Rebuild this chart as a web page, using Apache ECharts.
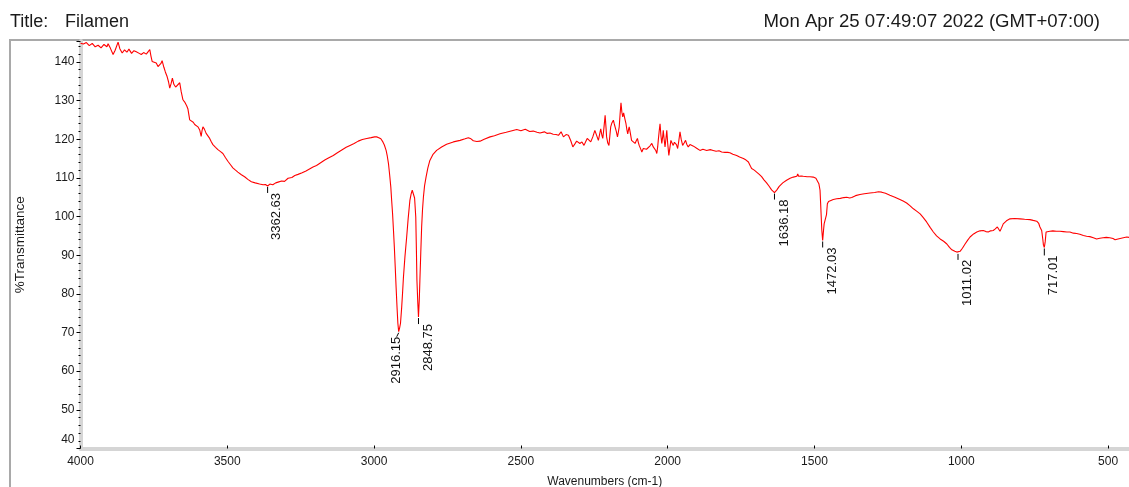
<!DOCTYPE html>
<html>
<head>
<meta charset="utf-8">
<title>Filamen – FTIR</title>
<script src="https://cdn.jsdelivr.net/npm/echarts@6/dist/echarts.min.js"></script>
<style>
  html, body { margin: 0; padding: 0; background: #fff; }
  #chart { width: 1129px; height: 487px; }
</style>
</head>
<body>
<div id="chart"></div>
<script>
// FTIR spectrum of the "Filamen" sample: [wavenumber (cm-1), %Transmittance]

// 4000–2995 cm-1: O–H stretch side
const hydroxylRegion = [
  [4000,144.8],[3990,144.6],[3980,145.0],[3970,144.2],[3960,144.8],[3950,143.9],[3940,144.3],
  [3930,143.6],[3920,144.5],[3910,143.9],[3906,144.7],[3898,143.5],[3889,141.9],[3882,143.0],
  [3876,142.6],[3872,145.1],[3866,143.4],[3858,142.3],[3850,143.1],[3842,142.5],[3835,143.3],
  [3826,142.2],[3818,142.9],[3810,142.6],[3800,142.2],[3793,141.9],[3785,142.4],[3776,142.0],
  [3770,142.6],[3764,143.2],[3760,141.5],[3756,140.1],[3750,140.6],[3742,139.7],[3736,138.8],
  [3730,138.4],[3726,139.6],[3722,140.3],[3716,138.6],[3711,137.4],[3705,136.2],[3700,134.8],
  [3696,133.2],[3691,134.5],[3687,135.8],[3682,134.2],[3676,133.5],[3670,134.0],[3662,134.6],
  [3657,132.3],[3651,130.2],[3645,129.6],[3638,128.6],[3634,127.8],[3628,125.0],[3622,124.6],
  [3616,124.4],[3611,123.8],[3605,123.6],[3600,123.2],[3594,122.4],[3589,120.7],[3586,122.2],
  [3583,123.2],[3578,122.6],[3572,121.5],[3566,121.0],[3560,120.2],[3555,119.4],[3549,118.6],
  [3540,117.9],[3532,117.3],[3523,116.8],[3515,116.3],[3506,115.2],[3498,114.3],[3489,113.4],
  [3481,112.6],[3472,112.0],[3464,111.5],[3452,110.8],[3441,110.3],[3430,109.6],[3418,109.0],
  [3405,108.7],[3390,108.4],[3378,108.2],[3370,108.3],[3362.63,107.9],[3355,108.4],[3345,108.2],
  [3335,108.7],[3327,108.9],[3315,109.2],[3305,109.1],[3293,109.9],[3280,110.1],[3270,110.6],
  [3259,110.9],[3245,111.3],[3232,111.8],[3220,112.3],[3208,112.8],[3196,113.2],[3182,113.9],
  [3168,114.6],[3154,115.2],[3139,115.8],[3125,116.5],[3110,117.2],[3095,117.9],[3082,118.4],
  [3068,118.9],[3054,119.5],[3040,119.9],[3025,120.2],[3010,120.4],[2998,120.6]
];

// 2991–2605 cm-1: C–H stretch doublet
const chStretchRegion = [
  [2991,120.6],[2984,120.4],[2977,120.1],[2970,119.3],[2965,118.5],[2959,117.1],[2955,115.6],
  [2951,113.7],[2947,110.8],[2943,107.6],[2940,104.0],[2937,100.7],[2934,96.5],[2931,92.1],
  [2928,87.0],[2925,81.7],[2922,76.8],[2919,72.4],[2916.15,70.2],[2913,71.2],[2910,72.4],
  [2906,76.5],[2903,80.2],[2900,84.3],[2895,89.5],[2889,94.7],[2884,99.4],[2878,104.2],
  [2874,105.8],[2870,106.8],[2866,106.6],[2862,104.8],[2858,99.8],[2856,92.0],[2854,83.4],
  [2851,77.5],[2848.75,74.0],[2846,78.5],[2844,83.4],[2841,90.5],[2838,97.3],[2835,101.8],
  [2832,105.0],[2828,108.0],[2823,110.2],[2817,112.5],[2810,114.5],[2800,116.0],[2787,117.1],
  [2770,118.0],[2753,118.7],[2730,119.3],[2707,119.7],[2690,120.1],[2679,120.4],[2670,120.1],
  [2662,119.6],[2650,119.4],[2639,119.5],[2625,120.0],[2605,120.6]
];

// 2590–1705 cm-1: noisy CO2 / water vapour band and carbonyl side
const midRegion = [
  [2590,120.9],[2571,121.4],[2550,121.8],[2530,122.2],[2514,122.5],[2500,122.2],[2485,122.6],
  [2470,122.0],[2458,122.1],[2445,121.8],[2435,121.6],[2420,121.9],[2410,121.5],[2401,121.6],
  [2390,121.3],[2380,121.2],[2372,121.0],[2363,121.9],[2355,120.6],[2346,121.2],[2338,121.0],
  [2330,119.6],[2323,118.0],[2316,118.8],[2310,119.5],[2304,119.0],[2299,118.9],[2292,119.3],
  [2285,118.4],[2279,119.4],[2274,120.2],[2268,119.8],[2262,119.3],[2255,120.6],[2248,122.3],
  [2242,121.0],[2236,119.7],[2232,121.2],[2228,122.7],[2224,121.0],[2221,120.2],[2217,123.0],
  [2213,126.2],[2210,123.0],[2208,120.6],[2204,119.0],[2200,118.4],[2197,120.8],[2194,123.2],
  [2190,124.2],[2185,124.9],[2182,124.0],[2179,123.6],[2175,122.0],[2171,120.6],[2168,121.8],
  [2165,123.2],[2162,126.5],[2159,129.4],[2156,127.0],[2153,125.8],[2150,126.8],[2148,126.6],
  [2145,125.0],[2142,124.0],[2139,122.5],[2136,121.4],[2133,122.6],[2131,123.2],[2127,121.5],
  [2123,119.7],[2117,119.2],[2111,118.9],[2107,119.6],[2103,120.2],[2100,119.2],[2097,118.4],
  [2092,117.5],[2088,116.7],[2083,117.6],[2077,118.0],[2072,117.4],[2066,117.6],[2060,118.3],
  [2054,118.9],[2049,118.0],[2043,117.6],[2040,117.0],[2037,116.3],[2034,118.0],[2032,119.7],
  [2029,122.0],[2026,124.0],[2023,121.0],[2020,118.9],[2017,120.6],[2015,122.3],[2012,120.0],
  [2009,118.0],[2006,120.0],[2003,122.3],[2000,119.0],[1996,115.8],[1992,118.0],[1989,119.7],
  [1985,119.0],[1981,118.4],[1977,119.2],[1973,119.7],[1970,118.6],[1966,117.6],[1962,119.6],
  [1958,121.9],[1954,120.0],[1949,118.4],[1944,119.0],[1939,119.7],[1935,118.7],[1930,118.0],
  [1924,118.6],[1918,118.9],[1912,118.2],[1907,118.0],[1900,117.6],[1890,117.1],[1880,117.4],
  [1867,117.1],[1855,117.3],[1845,117.1],[1835,116.9],[1825,117.0],[1816,116.7],[1805,116.6],
  [1795,116.6],[1788,116.5],[1778,116.1],[1765,115.8],[1755,115.4],[1742,115.0],[1733,114.6],
  [1725,114.1],[1718,113.0],[1714,112.4],[1705,112.0]
];

// 1697–428 cm-1: fingerprint region
const fingerprintRegion = [
  [1697,111.5],[1688,110.9],[1680,110.3],[1672,109.5],[1663,108.7],[1655,107.9],[1646,106.9],
  [1636.18,106.2],[1628,106.9],[1620,107.8],[1608,108.7],[1595,109.4],[1583,109.9],[1572,110.2],
  [1560,110.4],[1557,111.0],[1554,110.4],[1545,110.5],[1538,110.4],[1525,110.3],[1515,110.3],
  [1504,110.2],[1495,109.9],[1489,109.4],[1485,108.5],[1481,106.8],[1479,103.5],[1477,100.0],
  [1475,96.5],[1472.03,93.8],[1469,96.5],[1467,98.1],[1464,97.6],[1462,97.7],[1459,100.5],
  [1456,103.3],[1452,103.9],[1447,104.2],[1436,104.4],[1424,104.6],[1412,104.7],[1400,104.9],
  [1390,105.0],[1380,104.8],[1373,104.9],[1360,105.4],[1345,105.7],[1330,105.9],[1311,106.1],
  [1295,106.2],[1282,106.4],[1271,106.3],[1258,106.0],[1243,105.5],[1226,105.0],[1209,104.4],
  [1198,104.0],[1186,103.5],[1175,102.8],[1163,102.0],[1152,101.4],[1140,100.7],[1130,99.8],
  [1118,98.6],[1106,97.2],[1095,96.0],[1084,95.0],[1072,94.2],[1060,93.6],[1049,92.9],
  [1040,92.0],[1032,91.4],[1022,91.0],[1015,90.8],[1011.02,90.6],[1004,91.0],[996,91.8],
  [987,92.9],[978,93.9],[970,94.7],[958,95.5],[947,96.0],[936,96.3],[925,96.4],[916,96.1],
  [908,96.0],[900,96.3],[891,96.4],[884,96.8],[877,97.3],[872,96.8],[868,96.2],[863,97.0],
  [857,98.1],[846,98.9],[834,99.4],[818,99.5],[800,99.4],[784,99.3],[766,99.2],[755,99.0],
  [743,98.8],[736,98.2],[732,97.3],[728,96.8],[726,96.4],[722,94.0],[720,92.6],[717.01,92.0],
  [714,93.5],[711,96.0],[705,96.2],[698,96.2],[688,96.3],[676,96.2],[664,96.2],[652,96.1],
  [640,96.0],[630,96.0],[618,95.7],[607,95.6],[596,95.4],[584,95.1],[573,94.9],[562,94.8],
  [550,94.5],[539,94.2],[528,94.4],[517,94.5],[506,94.6],[494,94.5],[483,94.3],[476,94.0],
  [471,93.8],[466,94.2],[460,94.4],[448,94.5],[436,94.7],[428,94.6]
];

// Annotated peak positions (cm-1) and their %T
const peakWavenumbers = [3362.63, 2916.15, 2848.75, 1636.18, 1472.03, 1011.02, 717.01];
const peakTransmittance = [107.9, 70.2, 74.0, 106.2, 93.8, 90.6, 92.0];

const titleText = 'Filamen';
const timestampText = 'Mon Apr 25 07:49:07 2022 (GMT+07:00)';

const spectrum = hydroxylRegion.concat(chStretchRegion, midRegion, fingerprintRegion);
const peaks = peakWavenumbers.map((w, i) => [w, peakTransmittance[i]]);

// label placement per peak: horizontal shift and gap below the peak (px)
const peakLabelShift = [8.5, -2.5, 9.5, 9.5, 9.5, 9.5, 9.5];
const peakLabelGap = [5, 3, 5, 5, 5, 5, 6];

const FONT = '"Liberation Sans", Arial, Helvetica, sans-serif';

const chart = echarts.init(document.getElementById('chart'), null, { renderer: 'canvas' });

chart.setOption({
  animation: false,
  backgroundColor: '#ffffff',
  graphic: [
    {
      type: 'rect', silent: true, z: 0,
      shape: { x: 10, y: 40, width: 1200, height: 500 },
      style: { fill: 'none', stroke: '#a9a9a9', lineWidth: 2 }
    },
    {
      type: 'text', x: 10, y: 22, silent: true,
      style: { text: 'Title:', font: '18px ' + FONT, fill: '#1a1a1a', verticalAlign: 'middle' }
    },
    {
      type: 'text', x: 65, y: 22, silent: true,
      style: { text: titleText, font: '18px ' + FONT, fill: '#1a1a1a', verticalAlign: 'middle' }
    },
    {
      type: 'text', x: 1100, y: 22, silent: true,
      style: { text: timestampText, font: '18.6px ' + FONT, fill: '#1a1a1a', align: 'right', verticalAlign: 'middle' }
    }
  ],
  grid: {
    left: 80.5, right: 0, top: 41, bottom: 38.5,
    containLabel: false,
    outerBoundsMode: 'none'
  },
  xAxis: {
    type: 'value',
    inverse: true,
    min: 428.6,
    max: 4000,
    splitNumber: 7,
    name: 'Wavenumbers (cm-1)',
    nameLocation: 'middle',
    nameGap: 27,
    nameTextStyle: { fontFamily: FONT, fontSize: 12, color: '#1a1a1a' },
    axisLine: { onZero: false, lineStyle: { color: '#d5d5d5', width: 4 } },
    axisTick: { show: true, inside: true, length: 3, lineStyle: { color: '#000', width: 1 } },
    axisLabel: {
      margin: 7, fontFamily: FONT, fontSize: 12, color: '#1a1a1a',
      showMinLabel: false, showMaxLabel: true,
      formatter: v => String(v)
    },
    splitLine: { show: false }
  },
  yAxis: {
    type: 'value',
    min: 40,
    max: 145.4,
    interval: 10,
    name: '%Transmittance',
    nameLocation: 'middle',
    nameGap: 53,
    nameRotate: 90,
    nameTextStyle: { fontFamily: FONT, fontSize: 13.5, color: '#1a1a1a' },
    axisLine: { show: true, onZero: false, lineStyle: { color: '#d5d5d5', width: 4 } },
    axisTick: { show: true, length: 4, lineStyle: { color: '#000', width: 1 } },
    minorTick: { show: true, splitNumber: 5, length: 2, lineStyle: { color: '#000', width: 1 } },
    axisLabel: {
      margin: 6, fontFamily: FONT, fontSize: 12, color: '#1a1a1a',
      showMaxLabel: false,
      formatter: v => (v === 40 ? '{lo|40}' : String(v)),
      rich: { lo: { fontFamily: FONT, fontSize: 12, color: '#1a1a1a', padding: [0, 0, 18, 0] } }
    },
    splitLine: { show: false },
    minorSplitLine: { show: false }
  },
  series: [
    {
      name: 'Filamen',
      type: 'line',
      data: spectrum,
      showSymbol: false,
      symbol: 'none',
      smooth: false,
      lineStyle: { color: '#ff0000', width: 1.1 },
      silent: true,
      z: 3
    },
    {
      name: 'peaks',
      type: 'custom',
      coordinateSystem: 'cartesian2d',
      data: peaks,
      silent: true,
      clip: false,
      z: 4,
      renderItem: function (params, api) {
        const i = params.dataIndex;
        const p = api.coord([api.value(0), api.value(1)]);
        const dx = peakLabelShift[i];
        const gap = peakLabelGap[i];
        return {
          type: 'group',
          children: [
            {
              type: 'line',
              shape: { x1: p[0], y1: p[1] + 1, x2: p[0] + (dx < 0 ? -2 : 0), y2: p[1] + gap + 2 },
              style: { stroke: '#000', lineWidth: 1 }
            },
            {
              type: 'text',
              x: p[0] + dx,
              y: p[1] + gap + 2,
              rotation: Math.PI / 2,
              style: {
                text: api.value(0).toFixed(2),
                font: '13px ' + FONT,
                fill: '#111',
                align: 'right',
                verticalAlign: 'middle'
              }
            }
          ]
        };
      }
    }
  ]
});
</script>
</body>
</html>
